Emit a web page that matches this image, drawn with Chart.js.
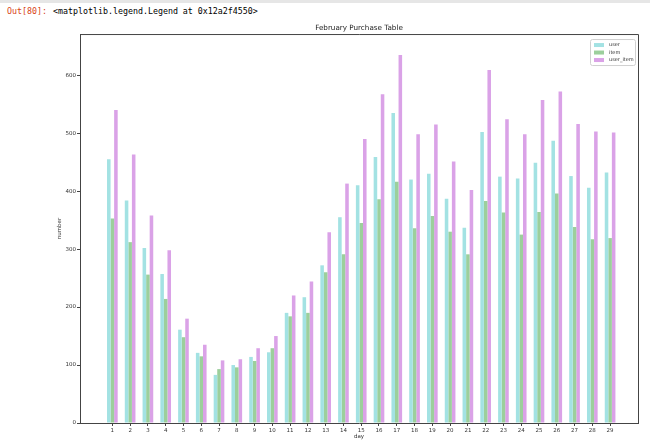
<!DOCTYPE html>
<html>
<head>
<meta charset="utf-8">
<script src="https://cdn.jsdelivr.net/npm/chart.js@4"></script>
<style>
body{margin:0;background:#fff;}
#wrap{position:relative;width:650px;height:440px;overflow:hidden;background:#fff;}
#topbar{position:absolute;left:0;top:0;width:650px;height:3px;background:#e6e6e6;}
.out{position:absolute;top:6px;font:8.3px "DejaVu Sans Mono",monospace;white-space:pre;}
#prompt{left:7px;color:#d84315;}
#res{left:53px;color:#000;}
canvas{position:absolute;left:0;top:0;}
</style>
</head>
<body>
<div id="wrap">
<div id="topbar"></div>
<div class="out" id="prompt">Out[80]:</div>
<div class="out" id="res">&lt;matplotlib.legend.Legend at 0x12a2f4550&gt;</div>
<canvas id="chart" width="650" height="440"></canvas>
</div>
<script>
var days = [1,2,3,4,5,6,7,8,9,10,11,12,13,14,15,16,17,18,19,20,21,22,23,24,25,26,27,28,29];
var userData = [455,384,302,257,161,121,83,100,114,122,190,217,272,355,410,459,535,420,430,387,337,502,425,422,449,487,426,406,432];
var itemData = [353,312,256,214,148,115,93,96,107,129,184,190,260,291,345,386,416,336,357,330,291,383,363,325,364,396,338,317,319];
var userItemData = [540,463,358,298,180,135,108,110,129,150,220,244,329,413,490,567,635,498,515,451,402,609,524,498,557,572,516,503,501];
var yTicks = [0,100,200,300,400,500,600];

var tickFont = {family: 'DejaVu Sans', size: 5.5};

// top/right spines plus a matplotlib style legend box
var frame = {
	id: 'frame',
	afterDraw: function(chart){
		var ctx = chart.ctx, a = chart.chartArea;
		ctx.save();
		ctx.strokeStyle = '#444';
		ctx.lineWidth = 1;
		ctx.beginPath();
		ctx.moveTo(a.left, a.top + 0.5);
		ctx.lineTo(a.right + 0.5, a.top + 0.5);
		ctx.lineTo(a.right + 0.5, a.bottom);
		ctx.stroke();

		var bx = a.right - 48, by = a.top + 5;
		ctx.fillStyle = 'rgba(255,255,255,0.8)';
		ctx.strokeStyle = '#d0d0d0';
		ctx.beginPath();
		ctx.roundRect(bx + 0.5, by + 0.5, 45, 26, 2);
		ctx.fill();
		ctx.stroke();
		ctx.font = '5px "DejaVu Sans"';
		ctx.textBaseline = 'middle';
		chart.data.datasets.forEach(function(ds, i){
			var y = by + 6 + i * 7.5;
			ctx.fillStyle = ds.backgroundColor;
			ctx.fillRect(bx + 4, y - 2, 10, 4);
			ctx.fillStyle = '#333';
			ctx.fillText(ds.label, bx + 19, y);
		});
		ctx.restore();
	}
};

var axisGrid = {display: true, drawOnChartArea: false, drawTicks: true, tickLength: 3, color: '#444', offset: false};

new Chart(document.getElementById('chart').getContext('2d'), {
	type: 'bar',
	data: {
		labels: days,
		datasets: [
			{label: 'user', data: userData, backgroundColor: '#a3e2e3'},
			{label: 'item', data: itemData, backgroundColor: '#9ccf9c'},
			{label: 'user_item', data: userItemData, backgroundColor: '#daa2e7'}
		]
	},
	options: {
		responsive: false,
		animation: false,
		categoryPercentage: 0.6,
		barPercentage: 1.0,
		layout: {padding: {top: 0, right: 12, bottom: 0, left: 0}},
		plugins: {
			legend: {display: false},
			tooltip: {enabled: false},
			title: {
				display: true,
				text: 'February Purchase Table',
				fullSize: false,
				color: '#222',
				font: {family: 'DejaVu Sans', size: 7.2, weight: 'normal'},
				padding: {top: 23.5, bottom: 1.9}
			}
		},
		scales: {
			x: {
				type: 'linear',
				min: -0.82,
				max: 30.57,
				offset: false,
				grid: axisGrid,
				border: {display: true, color: '#444', width: 1},
				afterBuildTicks: function(s){ s.ticks = days.map(function(v){ return {value: v}; }); },
				afterFit: function(s){ s.height = 17; },
				ticks: {color: '#333', font: tickFont, padding: 1, autoSkip: false, maxRotation: 0},
				title: {display: true, text: 'day', color: '#333', font: tickFont, padding: {top: 0, bottom: 0}}
			},
			y: {
				min: 0,
				max: 671,
				grid: axisGrid,
				border: {display: true, color: '#444', width: 1},
				afterBuildTicks: function(s){ s.ticks = yTicks.map(function(v){ return {value: v}; }); },
				afterFit: function(s){ s.width = 80; },
				ticks: {color: '#333', font: tickFont, padding: 1},
				title: {display: true, text: 'number', color: '#333', font: tickFont, padding: {top: 56, bottom: 0}}
			}
		}
	},
	plugins: [frame]
});
</script>
</body>
</html>
